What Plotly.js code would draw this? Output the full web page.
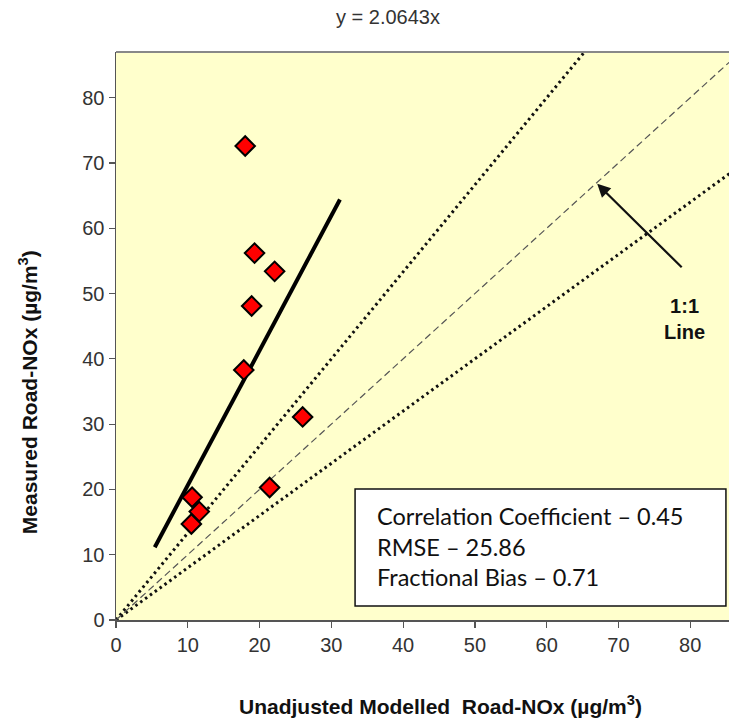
<!DOCTYPE html>
<html>
<head>
<meta charset="utf-8">
<script src="https://cdn.plot.ly/plotly-3.0.1.min.js"></script>
<style>html,body{margin:0;padding:0;background:#fff;}#chart{width:730px;height:718px;}</style>
</head>
<body>
<div id="chart"></div>
<script>
// Data
const modelled = [18.0, 19.3, 22.1, 18.9, 17.8, 26.0, 10.6, 11.6, 10.5, 21.4];
const measured = [72.6, 56.2, 53.4, 48.1, 38.3, 31.1, 18.8, 16.6, 14.7, 20.3];
const trendSlope = 2.0643;
const trendX = [5.4, 31.2];
const trendY = trendX.map(v => v * trendSlope);
const refX = [0, 100];
const oneToOneY = [0, 100];
const upperY = [0, 133.3];
const lowerY = [0, 80];
const tickVals = [0, 10, 20, 30, 40, 50, 60, 70, 80];
const statsLines = ["Correlation Coefficient \u2013 0.45", "RMSE \u2013 25.86", "Fractional Bias \u2013 0.71"];

const arial = "Liberation Sans, Arial, sans-serif";

const traces = [
  {x: refX, y: upperY, mode: 'lines', line: {color: '#111', width: 3, dash: '2.5px,3.5px'}, hoverinfo: 'skip'},
  {x: refX, y: lowerY, mode: 'lines', line: {color: '#111', width: 3, dash: '2.5px,3.5px'}, hoverinfo: 'skip'},
  {x: refX, y: oneToOneY, mode: 'lines', line: {color: '#555', width: 1.2, dash: '7px,4px'}, hoverinfo: 'skip'},
  {x: trendX, y: trendY, mode: 'lines', line: {color: '#000', width: 4}},
  {x: modelled, y: measured, mode: 'markers', marker: {symbol: 'diamond', size: 15, color: '#FF0000', line: {color: '#000', width: 2}}}
];

const layout = {
  width: 730, height: 718,
  margin: {l: 116, r: 1, t: 52, b: 98},
  paper_bgcolor: '#fff',
  plot_bgcolor: '#FFFFCC',
  showlegend: false,
  font: {family: arial, color: '#333'},
  xaxis: {
    range: [0, 85.4], tickvals: tickVals, ticktext: tickVals.map(String),
    showgrid: false, zeroline: false, showline: true, linecolor: '#555', linewidth: 1.5,
    ticks: 'outside', ticklen: 6, tickcolor: '#555', tickwidth: 1.2,
    tickfont: {family: arial, size: 20, color: '#333'}
  },
  yaxis: {
    range: [0, 87], tickvals: tickVals, ticktext: tickVals.map(String),
    showgrid: false, zeroline: false, showline: true, linecolor: '#555', linewidth: 1.5,
    ticks: 'outside', ticklen: 6, tickcolor: '#555', tickwidth: 1.2,
    tickfont: {family: arial, size: 20, color: '#333'}
  },
  shapes: [
    {type: 'line', xref: 'paper', yref: 'paper', x0: 0, x1: 1, y0: 1, y1: 1, line: {color: '#888', width: 2}},
    {type: 'rect', xref: 'paper', yref: 'paper', x0: 0.390, x1: 0.995, y0: 0.0246, y1: 0.2306,
     fillcolor: '#fff', line: {color: '#111', width: 1.5}, layer: 'above'}
  ],
  annotations: [
    {xref: 'paper', yref: 'paper', x: 0.4437, y: 1.062, text: 'y = 2.0643x', showarrow: false,
     font: {family: arial, size: 20, color: '#333'}, xanchor: 'center', yanchor: 'middle'},
    {xref: 'paper', yref: 'paper', x: 0.5286, y: -0.149, text: '<b>Unadjusted Modelled  Road-NOx (\u00b5g/m<sup>3</sup>)</b>', showarrow: false,
     font: {family: arial, size: 21, color: '#111'}, xanchor: 'center', yanchor: 'middle'},
    {xref: 'paper', yref: 'paper', x: -0.1436, y: 0.401, text: '<b>Measured Road-NOx (\u00b5g/m<sup>3</sup>)</b>', showarrow: false,
     textangle: -90, font: {family: arial, size: 21, color: '#111'}, xanchor: 'center', yanchor: 'middle'},
    {xref: 'paper', yref: 'paper', x: 0.785, y: 0.768, ax: 86, ay: 85, text: '', showarrow: true,
     arrowhead: 2, arrowsize: 1.2, arrowwidth: 2.2, arrowcolor: '#111'},
    {xref: 'paper', yref: 'paper', x: 0.928, y: 0.530, text: '<b>1:1<br>Line</b>', showarrow: false,
     font: {family: arial, size: 20, color: '#111'}, xanchor: 'center', yanchor: 'middle', align: 'center'},
    {xref: 'paper', yref: 'paper', x: 0.4225, y: 0.130, text: statsLines.join('<br>'), showarrow: false,
     font: {family: 'Lato, Open Sans, sans-serif', size: 23.5, color: '#111'}, xanchor: 'left', yanchor: 'middle', align: 'left'}
  ]
};

Plotly.newPlot('chart', traces, layout, {displayModeBar: false, staticPlot: true});
</script>
</body>
</html>
